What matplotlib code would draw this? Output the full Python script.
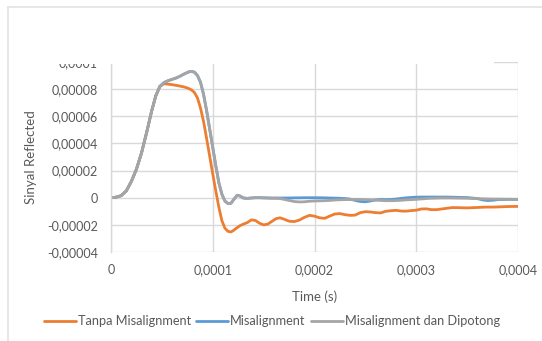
import matplotlib
matplotlib.use("Agg")
import matplotlib.pyplot as plt
from matplotlib.ticker import FuncFormatter, MultipleLocator
from matplotlib.lines import Line2D
from matplotlib.patches import Rectangle

# Time samples in microseconds
time_us = [0, 5, 10, 15, 20, 25, 30, 35, 40, 44, 48, 52, 56, 60, 64, 68, 72, 76, 79, 82,
           85, 88, 91, 94, 97, 100, 103, 106, 109, 112, 115, 118, 121, 124, 127, 130, 134, 138, 142, 146,
           150, 154, 158, 162, 166, 170, 175, 180, 185, 190, 195, 200, 205, 210, 215, 220, 225, 230, 235, 240,
           245, 250, 255, 260, 265, 270, 275, 280, 285, 290, 295, 300, 305, 310, 315, 320, 325, 330, 335, 340,
           350, 360, 365, 370, 375, 380, 390, 400]

# Reflected signal, in units of 1e-6
tanpa_misalignment = [0, 0.4, 1.5, 5, 12, 21, 33, 48, 64, 75, 82, 84, 83.7, 83.3, 82.8, 82.2, 81.6, 80.6, 79.5, 77.5,
                      73.5, 66, 56, 43.5, 30.5, 17.5, 5, -7, -17, -22.5, -24.8, -25.2, -23.8, -22, -20.5, -19.5, -18.3, -16.3, -16.8, -18.8,
                      -20, -19.5, -17.5, -15.5, -14.8, -15.8, -17.3, -17.6, -16.5, -14.5, -13, -13.6, -14.8, -15.2, -13.5, -12, -11.7, -12.5, -13, -12.8,
                      -11, -10.3, -10.5, -11, -11.2, -10, -9.6, -9.3, -9.8, -9.9, -9.5, -9.2, -8.3, -8.2, -8.8, -8.8, -8.3, -7.8, -7.3, -7.3,
                      -7.5, -7.2, -7.0, -6.9, -6.9, -6.8, -6.5, -6.4]

misalignment = [0, 0.4, 1.5, 5, 12, 21, 33, 48, 64, 75, 82, 84.8, 86.2, 87.2, 88.2, 89.6, 91.2, 92.6, 93.1, 92.5,
                90, 85, 76, 64, 50.5, 37, 23.5, 11, 2.5, -2.5, -4.3, -4, -1, 1.8, 1.2, -0.2, -0.5, -0.2, 0, 0,
                -0.1, -0.2, -0.3, -0.2, -0.2, -0.2, -0.2, -0.1, -0.1, 0, 0, 0, 0, -0.1, -0.2, -0.3, -0.4, -0.6, -1.0, -2.0,
                -2.8, -3.0, -2.4, -1.6, -1.3, -1.4, -1.3, -1.0, -0.5, -0.1, 0.2, 0.4, 0.5, 0.5, 0.5, 0.5, 0.5, 0.5, 0.4, 0.3,
                0.1, -0.6, -1.6, -2.1, -1.9, -1.4, -1.2, -1.3]

misalignment_dipotong = [0, 0.4, 1.5, 5, 12, 21, 33, 48, 64, 75, 82, 84.8, 86.2, 87.2, 88.2, 89.6, 91.2, 92.6, 93.1, 92.5,
                         90, 85, 76, 64, 50.5, 37, 23.5, 11, 2.5, -2.5, -4.3, -4, -1, 1.8, 1.2, -0.2, -0.5, -0.2, 0, 0,
                         -0.1, -0.2, -0.3, -0.4, -0.6, -1.2, -2.0, -2.8, -3.1, -3.0, -2.6, -2.4, -2.3, -2.2, -2.0, -1.7, -1.5, -1.4, -1.3, -1.3,
                         -1.3, -1.4, -1.6, -1.8, -2.0, -2.2, -2.2, -2.1, -1.9, -1.6, -1.4, -1.2, -0.9, -0.6, -0.4, -0.3, -0.2, -0.2, -0.2, -0.3,
                         -0.4, -0.6, -0.8, -0.9, -1.0, -1.0, -1.1, -1.2]

series_names = ["Tanpa Misalignment", "Misalignment", "Misalignment dan Dipotong"]
series_colors = ["#ED7D31", "#5B9BD5", "#A5A5A5"]

plt.rcParams["font.family"] = ["Lato", "DejaVu Sans"]
text_color = "#595959"
grid_color = "#D9D9D9"

fig = plt.figure(figsize=(5.42, 3.41), dpi=100)
W, H = 542, 341
ax = fig.add_axes([111 / W, 1 - 252 / H, (518 - 111) / W, (252 - 62) / H])

t = [v * 1e-6 for v in time_us]
for name, vals, col in zip(series_names,
                           [tanpa_misalignment, misalignment, misalignment_dipotong],
                           series_colors):
    ax.plot(t, [v * 1e-6 for v in vals], color=col, lw=2.0, label=name,
            solid_capstyle="round", solid_joinstyle="round")

ax.set_xlim(0, 0.0004)
ax.set_ylim(-0.00004, 0.0001)
ax.xaxis.set_major_locator(MultipleLocator(0.0001))
ax.yaxis.set_major_locator(MultipleLocator(0.00002))


def comma_fmt(v, pos):
    if abs(v) < 1e-12:
        return "0"
    return f"{v:.5f}".rstrip("0").replace(".", ",")


ax.xaxis.set_major_formatter(FuncFormatter(comma_fmt))
ax.yaxis.set_major_formatter(FuncFormatter(comma_fmt))

ax.grid(True, color=grid_color, lw=1.0)
ax.set_axisbelow(True)
for s in ["top", "right", "bottom"]:
    ax.spines[s].set_visible(False)
ax.spines["left"].set_color(grid_color)
ax.spines["left"].set_linewidth(1.0)
ax.tick_params(length=0, labelsize=9, colors=text_color)
ax.tick_params(axis="y", pad=9.5)
ax.tick_params(axis="x", pad=9)

ax.set_xlabel("Time (s)", fontsize=9.5, color=text_color, labelpad=10)
ax.set_ylabel("Sinyal Reflected", fontsize=9.5, color=text_color, labelpad=7)

handles, labels = ax.get_legend_handles_labels()
fig.legend(handles, labels, loc="center", bbox_to_anchor=(272 / W, 1 - 321 / H), ncol=3,
           frameon=False, fontsize=9.2, handlelength=2.5, handletextpad=0.15, columnspacing=0.4,
           labelcolor=text_color)

# Chart frame edges and the white band across the top of the plot area
fig.add_artist(Line2D([7.5 / W, 1], [1 - 6.5 / H, 1 - 6.5 / H], color="#E3E3E3", lw=1.2,
                      transform=fig.transFigure))
fig.add_artist(Line2D([7.5 / W, 7.5 / W], [0, 1 - 6.5 / H], color="#E3E3E3", lw=1.2,
                      transform=fig.transFigure))
fig.add_artist(Rectangle((9 / W, 1 - 63.5 / H), (494 - 9) / W, (63.5 - 8) / H,
                         transform=fig.transFigure, facecolor="white", edgecolor="none", zorder=10))

fig.savefig("out.png", dpi=100)
